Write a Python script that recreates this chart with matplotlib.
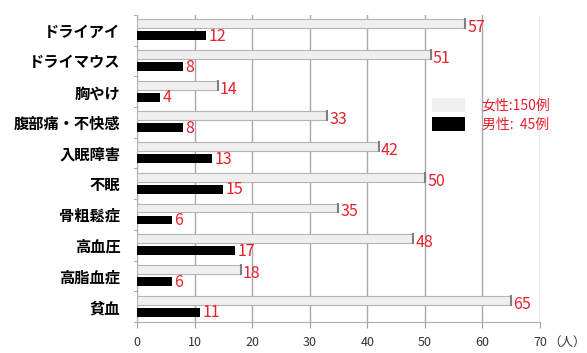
import matplotlib.pyplot as plt
from matplotlib.patches import Patch

# Font for Japanese labels
plt.rcParams['font.family'] = ['Noto Sans CJK JP', 'DejaVu Sans']

categories = ['ドライアイ', 'ドライマウス', '胸やけ', '腹部痛・不快感', '入眠障害',
              '不眠', '骨粗鬆症', '高血圧', '高脂血症', '貧血']
female = [57, 51, 14, 33, 42, 50, 35, 48, 18, 65]
male = [12, 8, 4, 8, 13, 15, 6, 17, 6, 11]
legend_labels = ['女性:150例', '男性:  45例']

red = '#e8202a'
fig = plt.figure(figsize=(5.87, 3.53), dpi=100)
ax = fig.add_axes([0.2334, 0.088, 0.6865, 0.87])

n = len(categories)
rows = [n - 1 - i for i in range(n)]
bar_h = 0.29

for y, f, m in zip(rows, female, male):
    # female bar sits on the upper half of the row, male bar below it
    ax.barh(y + 0.21, f, height=bar_h, color='#efefef', edgecolor='#b5b5b5',
            linewidth=0.8, zorder=3)
    ax.plot([f, f], [y + 0.21 - bar_h / 2, y + 0.21 + bar_h / 2],
            color='#808080', lw=1.5, zorder=4)
    ax.barh(y - 0.18, m, height=bar_h, color='black', zorder=3)
    ax.text(f + 0.4, y + 0.08, str(f), color=red, fontsize=11.5,
            va='center', ha='left', zorder=5)
    ax.text(m + 0.4, y - 0.20, str(m), color=red, fontsize=11.5,
            va='center', ha='left', zorder=5)

ax.set_xlim(0, 70)
ax.set_ylim(-0.5, n - 0.5)
ax.set_xticks(range(0, 71, 10))
ax.set_xticklabels([str(v) for v in range(0, 71, 10)], fontsize=9, color='#333333')
ax.set_yticks(rows)
ax.set_yticklabels(categories, fontsize=11, fontweight='bold')
ax.tick_params(axis='y', length=0, pad=12)
ax.tick_params(axis='x', length=4, color='#a0a0a0', pad=6)

ax.grid(axis='x', color='#a8a8a8', linewidth=1, zorder=0)
for s in ['top', 'right']:
    ax.spines[s].set_visible(False)
for s in ['left', 'bottom']:
    ax.spines[s].set_color('#b0b0b0')

# row separators on the left axis
for b in range(n + 1):
    ax.plot([-0.6, 0], [b - 0.5, b - 0.5], color='#b0b0b0', lw=0.8,
            clip_on=False, zorder=2)

# unit label next to the last tick
ax.annotate('（人）', xy=(70, 0), xycoords=ax.get_xaxis_transform(),
            xytext=(6, -10), textcoords='offset points', fontsize=9,
            va='top', ha='left', color='#333333')

handles = [Patch(facecolor='#efefef', edgecolor='none'),
           Patch(facecolor='black', edgecolor='none')]
ax.legend(handles, legend_labels, loc='upper left', bbox_to_anchor=(0.70, 0.77),
          frameon=False, labelcolor=red, fontsize=10, handlelength=2.4,
          handleheight=1.2, handletextpad=1.2, labelspacing=0.3)

fig.savefig('out.png', dpi=100)
